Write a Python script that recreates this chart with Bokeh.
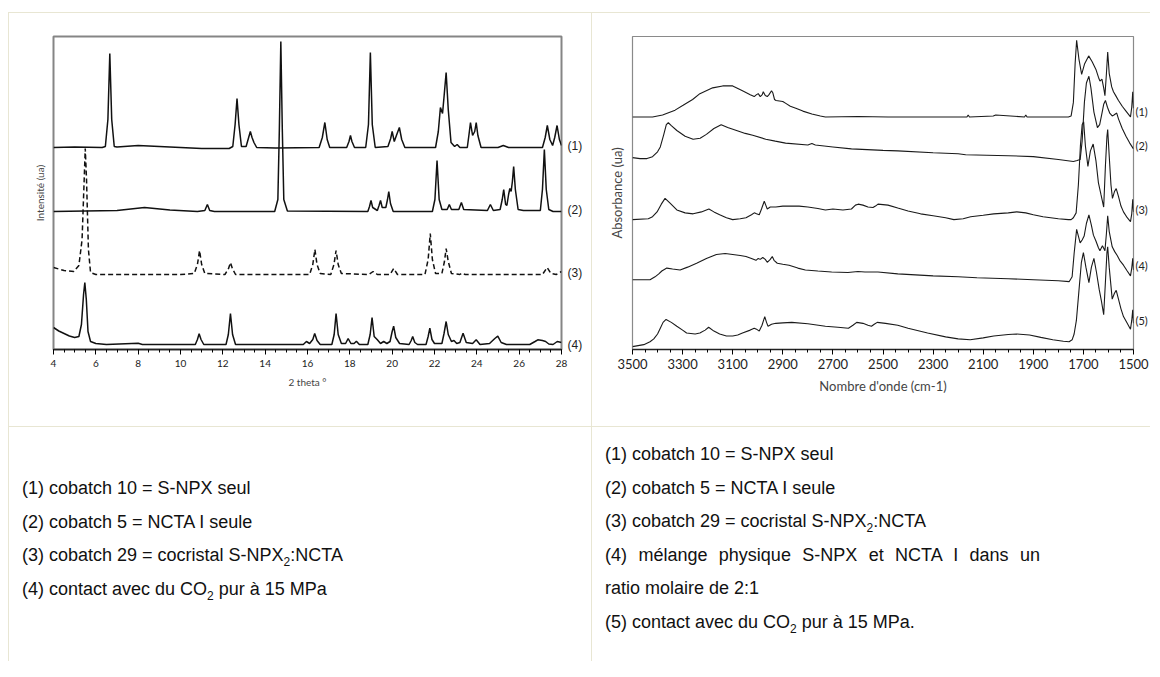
from bokeh.plotting import figure
from bokeh.models import Range1d, LinearAxis, FixedTicker, SingleIntervalTicker, Div
from bokeh.layouts import column, row
from bokeh.embed import file_html
from bokeh.resources import INLINE

# ---------------- XRD (left) : 2 theta (deg) / intensity (ua, stacked) ----------------
xrd1_x = [4.0, 5.0, 6.3, 6.45, 6.57, 6.66, 6.75, 6.87, 7.0, 8.0, 9.0, 10.0, 11.0, 12.3, 12.47, 12.58, 12.67, 12.76, 12.88,
          13.1, 13.22, 13.3, 13.38, 13.47, 13.6, 14.5, 16.55, 16.7, 16.82, 16.93, 17.05, 17.85, 17.96, 18.03, 18.1, 18.22,
          18.75, 18.88, 18.97, 19.06, 19.2, 19.8, 19.93, 20.0, 20.1, 20.2, 20.34, 20.45, 20.6, 22.05, 22.18, 22.28, 22.38,
          22.46, 22.55, 22.65, 22.78, 22.95, 23.07, 23.2, 23.55, 23.63, 23.7, 23.8, 23.9, 23.97, 24.05, 24.2, 25.0, 25.25,
          25.5, 27.1, 27.23, 27.33, 27.45, 27.58, 27.68, 27.79, 27.9, 28.0]
xrd1_y = [202, 202.5, 202, 203, 230, 296, 230, 203, 202.5, 204, 203, 202, 201, 201, 203, 225, 251, 225, 203,
          203, 212, 218, 212, 207, 202, 201.5, 202, 212, 227, 210, 202, 202, 208, 214, 208, 202,
          202, 225, 297, 225, 202, 203, 211, 218, 208, 214, 222, 210, 202, 202, 218, 242, 236,
          255, 277, 240, 207, 203, 205, 202, 202, 215, 227, 214, 218, 227, 214, 202, 202, 204,
          202, 202, 212, 224, 210, 204, 212, 224, 210, 204]

xrd2_x = [4.0, 5.5, 7.0, 8.3, 9.5, 10.8, 11.15, 11.27, 11.38, 11.6, 14.45, 14.6, 14.67, 14.74, 14.81, 14.88, 15.05,
          18.85, 18.93, 19.0, 19.08, 19.3, 19.38, 19.45, 19.53, 19.7, 19.78, 19.84, 19.92, 20.05, 21.9, 22.02, 22.12,
          22.22, 22.35, 22.6, 22.7, 22.8, 23.15, 23.27, 23.38, 24.5, 24.64, 24.78, 25.1, 25.2, 25.27, 25.36, 25.42,
          25.5, 25.56, 25.62, 25.68, 25.74, 25.82, 25.95, 26.2, 27.0, 27.1, 27.19, 27.28, 27.4, 27.6, 28.0]
xrd2_y = [138, 138.5, 139, 142, 139.5, 138, 139, 145, 139, 138, 138, 150, 220, 308, 220, 150, 138.5,
          138, 143, 149, 142, 139, 144, 149, 142, 142, 150, 158, 146, 138, 138, 150, 189,
          150, 140, 140, 145, 140, 140, 147, 140, 139, 145, 139, 140, 150, 160, 145, 144,
          155, 161, 158, 168, 183, 160, 140, 139, 139, 160, 200, 160, 140, 138, 138]

xrd3_x = [4.0, 4.5, 4.96, 5.2, 5.35, 5.45, 5.5, 5.56, 5.65, 5.75, 6.0, 8.0, 10.0, 10.65, 10.8, 10.9, 11.0, 11.15,
          12.1, 12.27, 12.36, 12.45, 12.6, 16.1, 16.25, 16.35, 16.45, 16.6, 17.1, 17.25, 17.35, 17.45, 17.6,
          18.9, 19.1, 19.3, 19.9, 20.07, 20.25, 21.55, 21.7, 21.8, 21.9, 22.05, 22.35, 22.47, 22.55, 22.65, 22.8,
          23.2, 23.3, 23.45, 27.1, 27.32, 27.5, 27.75, 28.0]
xrd3_y = [82, 79, 78, 84, 110, 170, 201, 170, 100, 77, 75, 75, 75, 76, 85, 99, 85, 76,
          75, 81, 87, 81, 75, 75, 85, 100, 85, 76, 75, 85, 99, 85, 76,
          75, 78, 75, 75, 81, 75, 75, 90, 116, 90, 76, 76, 88, 101, 88, 76,
          75, 76.5, 75, 75, 82, 76, 75, 78]

xrd4_x = [4.0, 4.25, 4.5, 4.75, 5.0, 5.2, 5.32, 5.42, 5.48, 5.55, 5.63, 5.75, 6.0, 6.5, 8.0, 8.2, 10.7, 10.8, 10.88,
          10.97, 11.1, 12.15, 12.26, 12.36, 12.46, 12.6, 15.8, 15.95, 16.1, 16.25, 16.34, 16.45, 16.6, 17.15, 17.26,
          17.35, 17.45, 17.6, 17.8, 17.92, 18.05, 18.2, 18.31, 18.45, 18.85, 18.96, 19.05, 19.15, 19.3, 19.45, 19.6,
          19.75, 19.9, 20.0, 20.07, 20.17, 20.35, 20.8, 20.9, 20.97, 21.07, 21.2, 21.6, 21.7, 21.78, 21.88, 22.0,
          22.35, 22.45, 22.55, 22.65, 22.8, 22.92, 23.05, 23.2, 23.35, 23.5, 23.8, 23.97, 24.15, 24.6, 24.85, 24.99,
          25.15, 25.4, 26.5, 26.75, 26.88, 27.1, 27.25, 27.4, 27.6, 27.8, 28.0]
xrd4_y = [22, 18.5, 16, 13.5, 12, 13, 25, 55, 67, 50, 18, 8, 6, 5, 6.3, 5, 5, 10, 15.7,
          10, 5, 5, 15, 36, 15, 5, 5, 8, 6, 10, 16, 9, 5, 5, 15,
          36, 15, 6, 6, 11, 6, 6, 8.3, 5, 5, 15, 32, 13, 9.7, 6, 8,
          6, 8, 18, 23.3, 12, 6, 5, 9, 13, 7, 5, 5, 13, 21.3, 10, 6,
          6, 16, 28, 15, 8, 9, 6, 7, 16.3, 7, 6, 9.7, 5, 6, 11, 13.3,
          7, 5, 5, 8, 9.7, 9, 8, 5.5, 5, 8, 7]

xrd_label_pos = [204, 140, 77, 5]
xrd_labels = ["(1)", "(2)", "(3)", "(4)"]

# ---------------- IR (right) : wavenumber (cm-1) / absorbance (ua, stacked) ----------------
ir1_x = [3500, 3420, 3380, 3330, 3298, 3260, 3231, 3180, 3140, 3100, 3061, 3030, 3014, 3005, 2998, 2990, 2982, 2978,
         2970, 2962, 2955, 2945, 2940, 2933, 2927, 2900, 2888, 2870, 2848, 2820, 2784, 2750, 2730, 2600, 2480, 2300,
         2165, 2160, 2155, 2060, 2050, 1935, 1930, 1925, 1790, 1760, 1749, 1740, 1733, 1727, 1718, 1707, 1695, 1679,
         1665, 1650, 1640, 1634, 1626, 1619, 1614, 1608, 1603, 1597, 1587, 1580, 1571, 1560, 1545, 1530, 1512, 1507,
         1503, 1500]
ir1_y = [240, 240, 242, 247, 252, 258, 264, 270, 272, 272, 267, 263, 261, 263, 264, 261, 263, 266,
         262, 261, 263, 267, 265, 258, 257, 256, 254, 251, 249, 246, 243, 241, 240, 240.5, 240, 240,
         240, 242, 240, 241, 242, 240, 242, 240, 240, 240, 241, 255, 295, 319, 300, 284, 295, 303,
         297, 289, 281, 277, 279, 270, 262, 285, 307, 285, 271, 266, 262, 257, 251, 246, 240, 250,
         266, 249]

ir2_x = [3500, 3470, 3442, 3420, 3400, 3389, 3375, 3365, 3357, 3345, 3323, 3290, 3258, 3230, 3205, 3175, 3146, 3120,
         3073, 3050, 3020, 2968, 2930, 2889, 2800, 2784, 2770, 2700, 2626, 2500, 2441, 2300, 2200, 2170, 2000, 1900,
         1800, 1740, 1725, 1713, 1705, 1696, 1688, 1678, 1670, 1658, 1644, 1635, 1625, 1619, 1612, 1604, 1595, 1585,
         1578, 1567, 1560, 1545, 1530, 1515, 1500]
ir2_y = [198, 197, 197, 199, 204, 209, 222, 232, 234, 231, 226, 220, 217, 218, 222, 228, 232, 229,
         225, 223, 221, 217, 215, 213, 211, 212.5, 211, 209, 207, 205.5, 205, 203, 202, 201, 200, 199,
         196, 194, 195, 196, 215, 255, 275, 282, 270, 245, 229, 232, 245, 253, 257, 250, 244, 241,
         242, 244, 238, 228, 220, 213, 207]

ir3_x = [3500, 3437, 3420, 3402, 3385, 3370, 3350, 3323, 3290, 3258, 3225, 3195, 3175, 3152, 3125, 3100, 3070, 3047,
         3025, 3014, 3005, 2994, 2985, 2974, 2968, 2962, 2950, 2928, 2900, 2860, 2835, 2800, 2760, 2730, 2700, 2660,
         2626, 2610, 2599, 2580, 2560, 2540, 2530, 2520, 2480, 2441, 2400, 2350, 2300, 2250, 2217, 2180, 2150, 2100,
         2058, 2000, 1966, 1930, 1900, 1861, 1800, 1760, 1749, 1740, 1729, 1720, 1712, 1705, 1699, 1692, 1682, 1672,
         1661, 1650, 1640, 1630, 1619, 1612, 1606, 1603, 1597, 1590, 1584, 1576, 1569, 1560, 1550, 1540, 1525, 1512,
         1507, 1503, 1500]
ir3_y = [134, 135, 137, 142, 150, 156, 151, 144, 141, 140, 142, 145, 142, 139, 136, 134, 135, 136,
         139, 141, 140, 139, 145, 153, 149, 145, 147, 147, 148, 148, 148, 147, 145.5, 144, 145, 144,
         145, 149, 150, 149, 147, 146.5, 148, 150, 149, 146, 143, 140, 138, 136, 134, 135, 137, 138.5,
         140, 141, 142, 141, 139, 137, 135, 134, 134, 136, 141, 170, 210, 232, 235, 210, 189, 205,
         212, 195, 172, 160, 147, 190, 220, 227, 200, 170, 156, 163, 166, 158, 148, 142, 136, 132,
         140, 155, 142]

ir4_x = [3500, 3430, 3410, 3395, 3383, 3363, 3340, 3310, 3280, 3244, 3205, 3165, 3130, 3100, 3070, 3047, 3025, 3007,
         2998, 2990, 2980, 2970, 2962, 2950, 2942, 2935, 2922, 2900, 2875, 2840, 2810, 2760, 2705, 2640, 2600, 2572,
         2520, 2441, 2300, 2200, 2125, 2000, 1900, 1800, 1757, 1745, 1737, 1727, 1720, 1713, 1705, 1697, 1688, 1678,
         1668, 1660, 1650, 1640, 1634, 1624, 1614, 1608, 1603, 1597, 1585, 1575, 1565, 1555, 1540, 1525, 1512, 1507,
         1503, 1500]
ir4_y = [72, 72, 75, 78, 81, 84, 83, 82, 85, 89, 94, 98, 99, 98, 97, 96, 94, 92,
         94, 93, 95, 93, 90, 93, 96, 92, 89, 88, 87, 84, 82, 81, 80, 79.5, 80.5, 80,
         80, 78, 76, 75, 74, 73, 72, 71, 70, 75, 99, 124, 117, 110, 113, 117, 130, 139,
         128, 118, 112, 105, 102, 107, 102, 120, 138, 122, 106, 101, 97, 92, 87, 81, 76, 84,
         94, 82]

ir5_x = [3500, 3455, 3430, 3415, 3400, 3389, 3378, 3366, 3345, 3323, 3300, 3284, 3250, 3231, 3210, 3196, 3175, 3152,
         3125, 3100, 3080, 3061, 3030, 3014, 3005, 2994, 2983, 2972, 2965, 2959, 2945, 2928, 2900, 2864, 2800, 2730,
         2680, 2638, 2620, 2605, 2580, 2560, 2546, 2535, 2523, 2490, 2441, 2400, 2322, 2250, 2200, 2152, 2100, 2058,
         2000, 1966, 1915, 1870, 1822, 1780, 1757, 1745, 1737, 1728, 1718, 1708, 1700, 1690, 1678, 1668, 1658, 1648,
         1637, 1628, 1619, 1611, 1606, 1603, 1597, 1585, 1576, 1569, 1560, 1550, 1540, 1525, 1512, 1507, 1503, 1500]
ir5_y = [3, 5, 8, 11, 16, 22, 28, 31, 28, 24, 20, 17, 16, 17, 20, 23, 19, 16,
         14, 14, 15, 17, 20, 22, 21, 19, 25, 34, 28, 24, 26, 27, 27.5, 28, 26.5, 24,
         23, 22, 25, 28, 27, 25, 24, 26, 28, 27, 25, 22, 17, 13, 11, 10, 12, 14,
         15.5, 16, 15, 12.5, 10, 8.5, 8, 10, 16, 30, 60, 90, 100, 85, 69, 85, 94, 80,
         62, 50, 36, 75, 100, 106, 85, 52, 58, 61, 52, 42, 34, 27, 21, 30, 41, 27]

ir_label_pos = [246, 211, 144, 87, 30]
ir_labels = ["(1)", "(2)", "(3)", "(4)", "(5)"]
ir_ticks = [3500, 3300, 3100, 2900, 2700, 2500, 2300, 2100, 1900, 1700, 1500]
ir_minor_ticks = [3450, 3400, 3350, 3250, 3200, 3150, 3050, 3000, 2950, 2850, 2800, 2750, 2650, 2600, 2550,
                  2450, 2400, 2350, 2250, 2200, 2150, 2050, 2000, 1950, 1850, 1800, 1750, 1650, 1600, 1550]

# ---------------- notes ----------------
left_notes = ["(1) cobatch 10 = S-NPX seul",
              "(2) cobatch 5 = NCTA I seule",
              "(3) cobatch 29 = cocristal S-NPX<sub>2</sub>:NCTA",
              "(4) contact avec du CO<sub>2</sub> pur à 15 MPa"]
right_notes = ["(1) cobatch 10 = S-NPX seul",
               "(2) cobatch 5 = NCTA I seule",
               "(3) cobatch 29 = cocristal S-NPX<sub>2</sub>:NCTA",
               "(4) mélange physique S-NPX et NCTA I dans un",
               "ratio molaire de 2:1",
               "(5) contact avec du CO<sub>2</sub> pur à 15 MPa."]
justified_line = 3  # wrapped (justified) line in the right cell

BEIGE = "#e8e6d3"
FONT_L = "Lato"
FONT_R = "Lato"

# ---------------- left figure ----------------
p1 = figure(width=582, height=413, output_backend="svg", toolbar_location=None,
            x_range=Range1d(4, 28), y_range=Range1d(0, 313),
            min_border_left=44, min_border_right=30, min_border_top=23, min_border_bottom=77)
p1.grid.visible = False
p1.outline_line_color = "#858585"
p1.outline_line_width = 2
for xs, ys, dash in [(xrd1_x, xrd1_y, "solid"), (xrd2_x, xrd2_y, "solid"),
                     (xrd3_x, xrd3_y, "5 3"), (xrd4_x, xrd4_y, "solid")]:
    p1.line(xs, ys, line_color="#111111", line_width=1.5, line_dash=dash)

xa = p1.xaxis[0]
xa.ticker = SingleIntervalTicker(interval=2, num_minor_ticks=4)
xa.axis_line_color = "#222222"
xa.axis_line_width = 1.5
xa.major_tick_in = 0
xa.major_tick_out = 5
xa.minor_tick_in = 0
xa.minor_tick_out = 3
xa.major_label_text_font = FONT_L
xa.major_label_text_font_size = "10px"
xa.major_label_text_color = "#222222"
xa.major_label_standoff = 5
xa.axis_label = "2 theta °"
xa.axis_label_text_font = FONT_L
xa.axis_label_text_font_size = "10px"
xa.axis_label_text_font_style = "normal"
xa.axis_label_standoff = 6

ya = p1.yaxis[0]
ya.ticker = FixedTicker(ticks=[])
ya.axis_line_color = None
ya.major_tick_line_color = None
ya.minor_tick_line_color = None
ya.axis_label = "Intensité (ua)"
ya.axis_label_text_font = FONT_L
ya.axis_label_text_font_size = "10px"
ya.axis_label_text_font_style = "normal"
ya.axis_label_standoff = 8

ra = LinearAxis(ticker=FixedTicker(ticks=xrd_label_pos),
                major_label_overrides={k: v for k, v in zip(xrd_label_pos, xrd_labels)},
                axis_line_color=None, major_tick_line_color=None, minor_tick_line_color=None,
                major_tick_in=0, major_tick_out=0, minor_tick_in=0, minor_tick_out=0,
                major_label_standoff=6, major_label_text_font="Liberation Sans",
                major_label_text_font_size="12px", major_label_text_color="#222222")
p1.add_layout(ra, "right")

# ---------------- right figure ----------------
p2 = figure(width=558, height=413, output_backend="svg", toolbar_location=None,
            x_range=Range1d(3500, 1500), y_range=Range1d(0, 323),
            min_border_left=40, min_border_right=15, min_border_top=13, min_border_bottom=77)
p2.grid.visible = False
p2.outline_line_color = "#8a8a8a"
p2.outline_line_width = 1.2
for xs, ys in [(ir1_x, ir1_y), (ir2_x, ir2_y), (ir3_x, ir3_y), (ir4_x, ir4_y), (ir5_x, ir5_y)]:
    p2.line(xs, ys, line_color="#1a1a1a", line_width=1.1)

xb = p2.xaxis[0]
xb.ticker = FixedTicker(ticks=ir_ticks, minor_ticks=ir_minor_ticks)
xb.axis_line_color = "#222222"
xb.axis_line_width = 1.3
xb.major_tick_in = 0
xb.major_tick_out = 5
xb.minor_tick_in = 0
xb.minor_tick_out = 3
xb.major_label_text_font = FONT_R
xb.major_label_text_font_size = "13px"
xb.major_label_text_color = "#222222"
xb.major_label_standoff = 4
xb.axis_label = "Nombre d'onde (cm-1)"
xb.axis_label_text_font = FONT_R
xb.axis_label_text_font_size = "13px"
xb.axis_label_text_font_style = "normal"
xb.axis_label_standoff = 6

yb = p2.yaxis[0]
yb.ticker = FixedTicker(ticks=[])
yb.axis_line_color = None
yb.major_tick_line_color = None
yb.minor_tick_line_color = None
yb.axis_label = "Absorbance (ua)"
yb.axis_label_text_font = FONT_R
yb.axis_label_text_font_size = "13px"
yb.axis_label_text_font_style = "normal"
yb.axis_label_standoff = 8

rb = LinearAxis(ticker=FixedTicker(ticks=ir_label_pos),
                major_label_overrides={k: v for k, v in zip(ir_label_pos, ir_labels)},
                axis_line_color=None, major_tick_line_color=None, minor_tick_line_color=None,
                major_tick_in=0, major_tick_out=0, minor_tick_in=0, minor_tick_out=0,
                major_label_standoff=2, major_label_text_font=FONT_R,
                major_label_text_font_size="11px", major_label_text_color="#222222")
p2.add_layout(rb, "right")

# ---------------- notes divs ----------------
def notes_html(lines, pad_top, justify_index=None):
    parts = []
    for i, l in enumerate(lines):
        l = l.replace("<sub>", "<sub style='font-size:12px;line-height:0'>")
        if i == justify_index:
            l = ("<span style='display:inline-block;width:435px;text-align:justify;"
                 "text-align-last:justify'>%s</span>" % l)
        parts.append(l)
    body = "<br>".join(parts)
    return ("<div style=\"padding:%dpx 0 0 13px;font-family:'Liberation Sans',Arial,sans-serif;"
            "font-size:18px;line-height:33.6px;color:#111;white-space:nowrap\">%s</div>" % (pad_top, body))

d_left = Div(text=notes_html(left_notes, 45), width=582, height=234, margin=0)
d_right = Div(text=notes_html(right_notes, 11, justified_line), width=558, height=234, margin=0)

def vline(h):
    return Div(text="", width=1, height=h, margin=0, styles={"background-color": BEIGE})

def hline(w):
    return Div(text="", width=w, height=1, margin=0, styles={"background-color": BEIGE})

def gap(w, h):
    return Div(text="", width=w, height=h, margin=0)

layout = column(
    gap(1150, 12),
    row(gap(8, 1), hline(1142), spacing=0),
    row(gap(8, 413), vline(413), p1, vline(413), p2, spacing=0),
    row(gap(8, 1), hline(1142), spacing=0),
    row(gap(8, 234), vline(234), d_left, vline(234), d_right, spacing=0),
    spacing=0,
)

open("out.html", "w").write(file_html(layout, INLINE))
